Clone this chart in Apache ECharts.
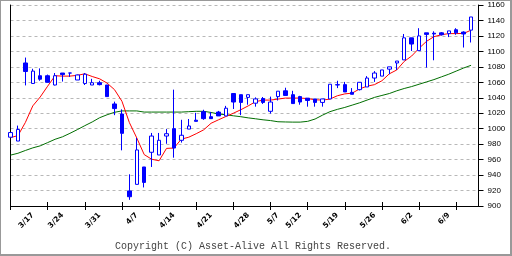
<!DOCTYPE html>
<html>
<head>
<meta charset="utf-8">
<script src="https://cdn.jsdelivr.net/npm/echarts@6/dist/echarts.min.js"></script>
<style>
html,body{margin:0;padding:0;background:#fff;}
#wrap{position:relative;width:512px;height:256px;}
#c{position:absolute;left:0;top:0;width:512px;height:256px;}
#frame{position:absolute;left:0;top:0;width:512px;height:256px;box-sizing:border-box;
  border-top:1px solid #999;border-left:1px solid #999;border-right:2px solid #999;border-bottom:2px solid #999;pointer-events:none;}
</style>
</head>
<body>
<div id="wrap"><div id="c"></div><div id="frame"></div></div>
<script>
// trading days (one candle each) plus one empty slot at the end
var dates = ['3/12','3/13','3/14','3/17','3/18','3/19','3/21','3/24','3/25','3/26','3/27','3/28','3/31',
             '4/1','4/2','4/3','4/4','4/7','4/8','4/9','4/10','4/11','4/14','4/15','4/16','4/17','4/18',
             '4/21','4/22','4/23','4/24','4/25','4/28','4/30','5/1','5/2','5/7','5/8','5/9','5/12','5/13',
             '5/14','5/15','5/16','5/19','5/20','5/21','5/22','5/23','5/26','5/27','5/28','5/29','5/30',
             '6/2','6/3','6/4','6/5','6/6','6/9','6/10','6/11','6/12',''];
// weekly labels shown on the axis
var tickLabels = ['3/17','3/24','3/31','4/7','4/14','4/21','4/28','5/7','5/12','5/19','5/26','6/2','6/9'];

var opens  = [989,984,1085,1058.5,1068.5,1068.5,1056.5,1072,1072,1063,1058.5,1056.5,1059.5,1056.5,1032,1019,
              919.5,928,950.5,969.5,966,990.5,1000,985,999.5,1011,1022,1015.5,1021.5,1016.5,1045.5,1044,
              1040.5,1033,1039,1022.5,1041.5,1049,1044,1041.5,1039.5,1038.5,1034,1038.5,1056.5,1057,1047,
              1050.5,1054,1065.5,1068,1077,1085,1089,1117.5,1101,1124,1123.5,1124,1123,1128,1125,1127.5];
var closes = [995,999,1074,1074.5,1064,1060,1068.5,1070,1072,1069.5,1070.5,1059.5,1057,1041.5,1026,994,
              912,972.5,930.5,990.5,985,993.5,975,991.5,1003.5,1009.5,1013,1013,1016.5,1026.5,1034.5,1034,
              1044,1038.5,1034,1034.5,1048.5,1043,1032.5,1034.5,1036.5,1034,1038.5,1057.5,1057,1047.5,1044.5,
              1060,1065.5,1072,1076,1080,1087.5,1117.5,1109.5,1120,1122,1122.5,1121.5,1126.5,1124,1122.5,1144.5];
var lows   = [989,984,1056,1058,1062,1060,1056,1061,1067,1063,1056.5,1056.5,1056,1041.5,1017.5,972,
              908,928,924,950.5,966,980.5,962.5,982,999.5,1009.5,1011.5,1013,1016.5,1016.5,1025.5,1017.5,
              1031,1028.5,1032,1019.5,1036.5,1043,1032.5,1031,1028.5,1028.5,1028.5,1038.5,1052.5,1047.5,1044.5,
              1049.5,1054,1060.5,1068,1070.5,1076,1089,1100.5,1101,1079,1088.5,1120.5,1118.5,1121.5,1105,1111.5];
var highs  = [995,1004,1092,1077.5,1078,1070,1072,1072,1072,1070,1072,1064.5,1062,1056.5,1035,1025,
              941,988,950.5,994.5,994.5,999.5,1050.5,1011.5,1012.5,1020.5,1024.5,1021.5,1023,1029.5,1045.5,1044,
              1044,1040.5,1041,1041.5,1048.5,1053,1049,1042.5,1039.5,1038.5,1038.5,1057.5,1062,1060.5,1052.5,
              1060,1068,1074.5,1076,1080,1087.5,1122.5,1117.5,1130,1124,1126,1125,1126.5,1130,1126,1144.5];
// short moving average (red)
var maShort = [988.5,991,1008,1029.5,1041,1055,1068.5,1068,1068,1069,1071,1067.5,1064.5,1059,1050.5,1035.5,
               1008,988,966.5,960.5,958.5,974.5,975,986.5,989,993.5,998.5,1007,1011.5,1015.8,1020,1024.5,
               1029.5,1035,1037,1037,1038.3,1039.6,1039.6,1039.6,1039,1037.4,1037,1038.3,1042.6,1045,1046,
               1051.5,1055,1057,1062,1071,1076,1087,1094,1104,1113,1119,1121.5,1123,1123,1123.2,1127.5];
// long moving average (green)
var maLong  = [965.8,968.2,971.8,975.2,977.8,982,986.3,989.5,994,998.8,1003.9,1008.7,1014.2,1018,1021.2,1023,
               1023,1023,1021.5,1021.5,1021.5,1021.5,1021.5,1021.5,1022,1022.5,1022.5,1021,1019,1018,1016.7,1015.5,
               1014,1012.8,1011.5,1010.5,1009,1008.7,1008.5,1008.5,1009.5,1012.5,1017.5,1022,1025,1027.5,1030.5,
               1033.5,1037,1040.5,1043,1045.5,1049,1052,1054.5,1057.5,1060.5,1063.5,1067,1070.5,1074.5,1078.5,1082];

var candleData = opens.map(function (o, i) { return [o, closes[i], lows[i], highs[i]]; });

var BLUE = '#0000ff';
var chart = echarts.init(document.getElementById('c'), null, {renderer: 'canvas'});
var everyFifth = function (idx) { return idx % 5 === 0; };
var isWeekLabel = function (idx) { return tickLabels.indexOf(dates[idx]) >= 0; };
chart.setOption({
  animation: false,
  backgroundColor: '#ffffff',
  grid: {left: 10.5, right: 33.5, top: 5, bottom: 50},
  xAxis: [{
    type: 'category', data: dates, boundaryGap: false,
    axisLine: {show: true, lineStyle: {color: '#000', width: 1}},
    axisTick: {show: true, inside: false, length: 4, interval: everyFifth, lineStyle: {color: '#000'}},
    axisLabel: {
      show: true, interval: isWeekLabel, rotate: 45, margin: 8,
      fontSize: 7.5, fontFamily: 'DejaVu Sans', fontWeight: 'bold', color: '#000'
    },
    splitLine: {show: false}
  }, {
    type: 'category', data: dates, boundaryGap: false, position: 'bottom',
    axisLine: {show: false},
    axisTick: {show: true, inside: true, length: 4, interval: everyFifth, lineStyle: {color: '#000'}},
    axisLabel: {show: false}, splitLine: {show: false}
  }],
  yAxis: [{
    type: 'value', position: 'right', min: 900, max: 1160, interval: 20,
    axisLine: {show: true, lineStyle: {color: '#000'}},
    axisTick: {show: true, length: 5, lineStyle: {color: '#000'}},
    axisLabel: {show: true, margin: 9, fontSize: 8, fontFamily: 'Liberation Sans', color: '#000',
                formatter: function (v) { return String(v); }},
    splitLine: {show: true, lineStyle: {color: '#b8b8b8', type: [3, 3], width: 1}}
  }, {
    type: 'value', position: 'left', min: 900, max: 1160, interval: 20,
    axisLine: {show: true, lineStyle: {color: '#000'}},
    axisTick: {show: false}, axisLabel: {show: false}, splitLine: {show: false}
  }],
  graphic: [{
    type: 'text', x: 253, y: 246,
    style: {text: 'Copyright (C) Asset-Alive All Rights Reserved.', fill: '#444',
            font: '10px "Liberation Mono"', textAlign: 'center', textVerticalAlign: 'middle'}
  }],
  series: [{
    type: 'line', data: maLong, symbol: 'none', z: 2,
    lineStyle: {color: '#006e00', width: 1}
  }, {
    type: 'line', data: maShort, symbol: 'none', z: 3,
    lineStyle: {color: '#ff0000', width: 1}
  }, {
    type: 'candlestick', data: candleData, barWidth: 4, clip: false, z: 4,
    itemStyle: {color: '#ffffff', color0: BLUE, borderColor: BLUE, borderColor0: BLUE, borderWidth: 1}
  }]
});
</script>
</body>
</html>
